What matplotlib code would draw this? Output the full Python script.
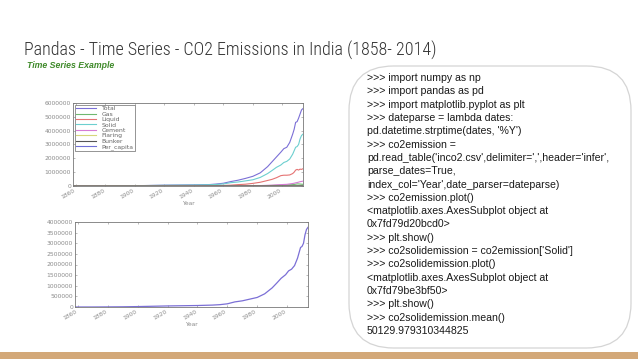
import matplotlib
matplotlib.use("Agg")
import matplotlib.pyplot as plt
from matplotlib.patches import FancyBboxPatch, Rectangle
from matplotlib import font_manager

# ---------------- data ----------------
years = [1858, 1870, 1880, 1890, 1900, 1910, 1920, 1930, 1940, 1950, 1955,
         1960, 1965, 1970, 1975, 1980, 1985, 1990, 1993, 1996, 1999, 2001,
         2003, 2005, 2007, 2008, 2009, 2010, 2011, 2012, 2013, 2014]

total = [0.0, 0.001, 0.005, 0.01, 0.02, 0.04, 0.06, 0.07, 0.08, 0.10, 0.14,
         0.20, 0.32, 0.42, 0.55, 0.70, 0.95, 1.40, 1.75, 2.10, 2.45, 2.70,
         2.80, 3.15, 3.75, 4.10, 4.60, 4.65, 4.90, 5.20, 5.50, 5.60]
gas = [0, 0, 0, 0, 0, 0, 0, 0, 0, 0, 0,
       0, 0, 0.001, 0.003, 0.008, 0.015, 0.03, 0.04, 0.05, 0.065, 0.07,
       0.08, 0.09, 0.10, 0.11, 0.13, 0.15, 0.15, 0.14, 0.13, 0.12]
liquid = [0, 0, 0, 0, 0, 0.002, 0.005, 0.007, 0.01, 0.015, 0.025,
          0.04, 0.06, 0.10, 0.13, 0.19, 0.27, 0.40, 0.48, 0.60, 0.75, 0.78,
          0.78, 0.80, 0.90, 1.00, 1.15, 1.20, 1.15, 1.22, 1.20, 1.25]
solid = [0.0, 0.001, 0.005, 0.01, 0.02, 0.035, 0.05, 0.06, 0.07, 0.09, 0.11,
         0.15, 0.24, 0.29, 0.37, 0.45, 0.62, 0.90, 1.12, 1.35, 1.52, 1.70,
         1.78, 1.95, 2.30, 2.55, 2.80, 2.85, 3.00, 3.40, 3.65, 3.75]
cement = [0, 0, 0, 0, 0, 0, 0, 0.001, 0.002, 0.003, 0.005,
          0.008, 0.01, 0.012, 0.015, 0.02, 0.03, 0.05, 0.06, 0.08, 0.10, 0.11,
          0.12, 0.15, 0.18, 0.20, 0.23, 0.25, 0.28, 0.31, 0.33, 0.35]
flaring = [0, 0, 0, 0, 0, 0, 0, 0, 0, 0, 0,
           0, 0.001, 0.002, 0.002, 0.003, 0.004, 0.005, 0.005, 0.005, 0.005, 0.005,
           0.005, 0.005, 0.005, 0.005, 0.005, 0.005, 0.005, 0.005, 0.005, 0.005]
bunker = [0, 0, 0, 0, 0, 0, 0, 0, 0, 0.002, 0.003,
          0.004, 0.005, 0.005, 0.005, 0.006, 0.006, 0.007, 0.007, 0.008, 0.008, 0.009,
          0.009, 0.010, 0.010, 0.010, 0.011, 0.011, 0.012, 0.012, 0.012, 0.012]
per_capita = [0.0] * 32

series_names = ["Total", "Gas", "Liquid", "Solid", "Cement", "Flaring", "Bunker", "Per_capita"]
series_values = [total, gas, liquid, solid, cement, flaring, bunker, per_capita]
series_colors = ["#7b6fd6", "#6fb86f", "#e57373", "#6ccfcf", "#d67bd6", "#d6d67b", "#555555", "#6f6fd6"]

x_ticks = [1860, 1880, 1900, 1920, 1940, 1960, 1980, 2000]
top_yticks = [0, 1e6, 2e6, 3e6, 4e6, 5e6, 6e6]
bot_yticks = [0, 0.5e6, 1e6, 1.5e6, 2e6, 2.5e6, 3e6, 3.5e6, 4e6]

title_text = "Pandas - Time Series - CO2 Emissions in India (1858- 2014)"
subtitle_text = "Time Series Example"
code_lines = [
    ">>> import numpy as np",
    ">>> import pandas as pd",
    ">>> import matplotlib.pyplot as plt",
    ">>> dateparse = lambda dates:",
    "pd.datetime.strptime(dates, '%Y')",
    ">>> co2emission =",
    "pd.read_table('inco2.csv',delimiter=',',header='infer',",
    "parse_dates=True,",
    "index_col='Year',date_parser=dateparse)",
    ">>> co2emission.plot()",
    "<matplotlib.axes.AxesSubplot object at",
    "0x7fd79d20bcd0>",
    ">>> plt.show()",
    ">>> co2solidemission = co2emission['Solid']",
    ">>> co2solidemission.plot()",
    "<matplotlib.axes.AxesSubplot object at",
    "0x7fd79be3bf50>",
    ">>> plt.show()",
    ">>> co2solidemission.mean()",
    "50129.979310344825",
]

# ---------------- figure ----------------
W, H = 638, 359
fig = plt.figure(figsize=(W / 100, H / 100), dpi=100)
fig.patch.set_facecolor("white")

def fx(px):
    return px / W

def fy(py):
    return 1 - py / H

available = {f.name for f in font_manager.fontManager.ttflist}
narrow = [n for n in ["Liberation Sans Narrow", "Roboto Condensed", "Open Sans Condensed",
                      "Noto Sans Condensed", "DejaVu Sans Condensed"] if n in available]
title_family = narrow[:1] + ["DejaVu Sans"] if narrow else ["Roboto", "DejaVu Sans"]
text_family = ["Liberation Sans", "DejaVu Sans"]

title = fig.text(fx(24), fy(56), title_text, fontsize=21, color="#333333",
                 family=title_family, fontweight="light", fontstretch="condensed",
                 va="baseline", ha="left")
# fit title to the reference width (about 412 px)
renderer = fig.canvas.get_renderer()
wpx = title.get_window_extent(renderer).width
if wpx > 0:
    title.set_fontsize(21 * min(1.0, 412.0 / wpx))

fig.text(fx(27), fy(68), subtitle_text, fontsize=6.3, color="#3f8a2a",
         family=text_family, fontweight="bold", fontstyle="italic", va="baseline", ha="left")

# code box
box = FancyBboxPatch((fx(349), fy(348)), fx(631) - fx(349), fy(66) - fy(348),
                     boxstyle="round,pad=0,rounding_size=0.07",
                     transform=fig.transFigure, facecolor="none",
                     edgecolor="#d5d5d5", linewidth=0.9, mutation_aspect=W / H)
fig.patches.append(box)

y0, y1 = 78, 331
step = (y1 - y0) / (len(code_lines) - 1)
for i, line in enumerate(code_lines):
    fig.text(fx(367), fy(y0 + i * step), line, fontsize=7.6, color="#1a1a1a",
             family=text_family, va="center", ha="left")

# bottom tan band
fig.patches.append(Rectangle((0, 0), 1, fy(352), transform=fig.transFigure,
                             facecolor="#d3a878", edgecolor="none"))

def style_axes(ax, yticks):
    ax.set_xlim(1858, 2014)
    ax.set_ylim(yticks[0], yticks[-1])
    ax.set_xticks(x_ticks)
    ax.set_xticklabels([str(t) for t in x_ticks], rotation=30, ha="right")
    ax.set_yticks(yticks)
    ax.set_yticklabels([str(int(t)) for t in yticks])
    ax.tick_params(direction="in", length=1.5, width=0.4, labelsize=4.3,
                   labelcolor="#8a8a8a", color="#888888", top=True, right=True, pad=1.5)
    for s in ax.spines.values():
        s.set_linewidth(0.6)
        s.set_color("#777777")
    ax.set_xlabel("Year", fontsize=4.3, color="#8a8a8a", labelpad=0.5)

# top chart
ax1 = fig.add_axes([fx(73), fy(186), fx(303) - fx(73), fy(103) - fy(186)])
for name, vals, col in zip(series_names, series_values, series_colors):
    ax1.plot(years, [v * 1e6 for v in vals], color=col, lw=0.8, label=name)
style_axes(ax1, top_yticks)
leg = ax1.legend(loc="upper left", fontsize=4.4, frameon=True, fancybox=False,
                 handlelength=3.2, labelspacing=0.02, borderpad=0.25,
                 borderaxespad=0.25, handletextpad=1.0)
leg.get_frame().set_edgecolor("#444444")
leg.get_frame().set_linewidth(0.5)
for t in leg.get_texts():
    t.set_color("#666666")

# bottom chart
ax2 = fig.add_axes([fx(75), fy(307), fx(308) - fx(75), fy(222) - fy(307)])
ax2.plot(years, [v * 1e6 for v in solid], color="#7b6fd6", lw=0.9)
style_axes(ax2, bot_yticks)

fig.savefig("out.png", dpi=100, facecolor="white")
